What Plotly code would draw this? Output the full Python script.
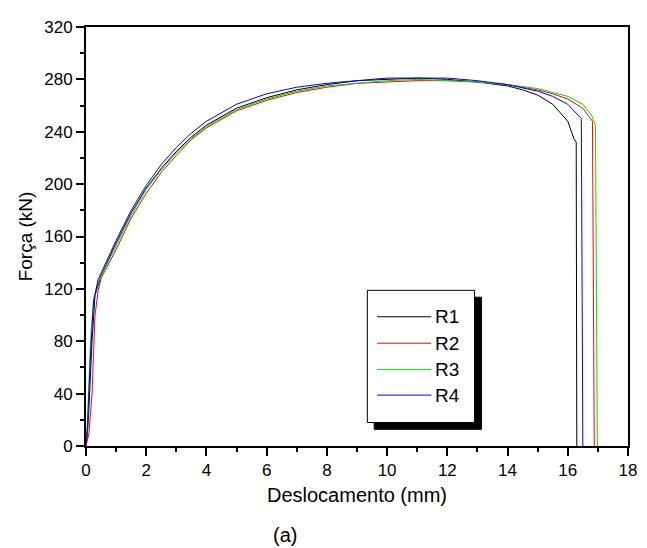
import plotly.graph_objects as go

# ---- data ----
names = ["R1", "R2", "R3", "R4"]
colors = ["#000000", "#FF0000", "#00E000", "#0000FF"]

r1_x = [0, 0.05, 0.1, 0.2, 0.3, 0.5, 1, 1.5, 2, 2.5, 3, 3.5, 4, 5, 6, 7, 8, 9, 10, 11, 12, 13, 14, 14.5, 15, 15.5, 16, 16.2, 16.28, 16.3]
r1_y = [0, 10, 30, 80, 115, 130, 155, 178, 197, 212, 225, 236, 245, 258, 266, 272, 276, 279, 280, 281, 280, 278, 275, 272, 268, 261, 248, 235, 232, 0]

r2_x = [0, 0.1, 0.2, 0.3, 0.4, 0.5, 1, 1.5, 2, 2.5, 3, 3.5, 4, 5, 6, 7, 8, 9, 10, 11, 12, 13, 14, 15, 15.5, 16, 16.5, 16.82, 16.88]
r2_y = [0, 10, 40, 100, 118, 128, 150, 174, 193, 209, 222, 234, 243, 256, 264, 270, 274, 277, 278, 279, 279, 278, 276, 272, 269, 265, 258, 248, 0]

r3_x = [0, 0.05, 0.15, 0.25, 0.4, 1, 1.5, 2, 2.5, 3, 3.5, 4, 5, 6, 7, 8, 9, 10, 11, 12, 13, 14, 15, 16, 16.5, 16.8, 16.92, 16.98]
r3_y = [0, 20, 80, 112, 125, 153, 176, 196, 211, 224, 235, 244, 257, 265, 271, 275, 277, 279, 280, 279, 278, 276, 273, 267, 261, 252, 245, 0]

r4_x = [0, 0.05, 0.15, 0.25, 0.4, 1, 1.5, 2, 2.5, 3, 3.5, 4, 5, 6, 7, 8, 9, 10, 11, 12, 13, 14, 15, 15.5, 16, 16.3, 16.45, 16.5]
r4_y = [0, 15, 70, 110, 127, 157, 180, 199, 215, 228, 239, 248, 261, 269, 274, 277, 279, 281, 281, 281, 279, 276, 271, 267, 261, 254, 250, 0]

series_x = [r1_x, r2_x, r3_x, r4_x]
series_y = [r1_y, r2_y, r3_y, r4_y]

x_ticks = list(range(0, 19, 2))
y_ticks = list(range(0, 321, 40))

# ---- figure ----
# the page body has an 8px margin, so the figure is drawn 8px in from the top-left
OFF = 8
W, H = 647 - OFF, 548 - OFF
PL, PT = 86, 18          # plot-area left/top in page pixels
PW, PH = 551, 428
L, T = PL - OFF, PT - OFF
R, B = W - L - PW, H - T - PH

def px(xp):
    return (xp - PL) / PW

def py(yp):
    return (PT + PH - yp) / PH

fig = go.Figure()
for nm, c, xs, ys in zip(names, colors, series_x, series_y):
    fig.add_trace(go.Scatter(x=xs, y=ys, mode="lines", name=nm,
                             line=dict(color=c, width=1), showlegend=False))

font_family = "Liberation Sans, Arial, sans-serif"

axis_common = dict(
    showline=True, linecolor="black", linewidth=2, mirror=True,
    ticks="outside", ticklen=8, tickwidth=1.5, tickcolor="black",
    showgrid=False, zeroline=False,
    tickfont=dict(family=font_family, size=17, color="black"),
)

fig.update_layout(
    width=W, height=H,
    margin=dict(l=L, r=R, t=T, b=B),
    paper_bgcolor="white", plot_bgcolor="white",
    font=dict(family=font_family, color="black"),
    xaxis=dict(range=[0, 18], tickvals=x_ticks,
               minor=dict(dtick=1, ticks="outside", ticklen=4, tickwidth=1.5, tickcolor="black"),
               title=dict(text="Deslocamento (mm)", font=dict(size=20), standoff=9),
               **axis_common),
    yaxis=dict(range=[0, 320], tickvals=y_ticks,
               minor=dict(dtick=20, ticks="outside", ticklen=4, tickwidth=1.5, tickcolor="black"),
               title=dict(text="Força (kN)", font=dict(size=19), standoff=7),
               **axis_common),
)

# ---- legend box with shadow ----
fig.add_shape(type="rect", xref="paper", yref="paper",
              x0=px(379), x1=px(488), y0=py(429), y1=py(294),
              fillcolor="black", line=dict(color="black", width=1))
fig.add_shape(type="rect", xref="paper", yref="paper",
              x0=px(372), x1=px(481), y0=py(422), y1=py(287),
              fillcolor="white", line=dict(color="black", width=1))
leg_y = [314, 341, 368, 394]
for nm, c, yy in zip(names, colors, leg_y):
    fig.add_shape(type="line", xref="paper", yref="paper",
                  x0=px(382), x1=px(437), y0=py(yy), y1=py(yy),
                  line=dict(color=c, width=1))
    fig.add_annotation(xref="paper", yref="paper", x=px(439), y=py(yy),
                       text=nm, showarrow=False, xanchor="left", yanchor="middle",
                       font=dict(size=19, family=font_family, color="black"))

fig.add_annotation(xref="paper", yref="paper", x=px(288), y=py(537),
                   text="(a)", showarrow=False, xanchor="center", yanchor="middle",
                   font=dict(size=20, family=font_family, color="black"))

fig.write_html("out.html")
